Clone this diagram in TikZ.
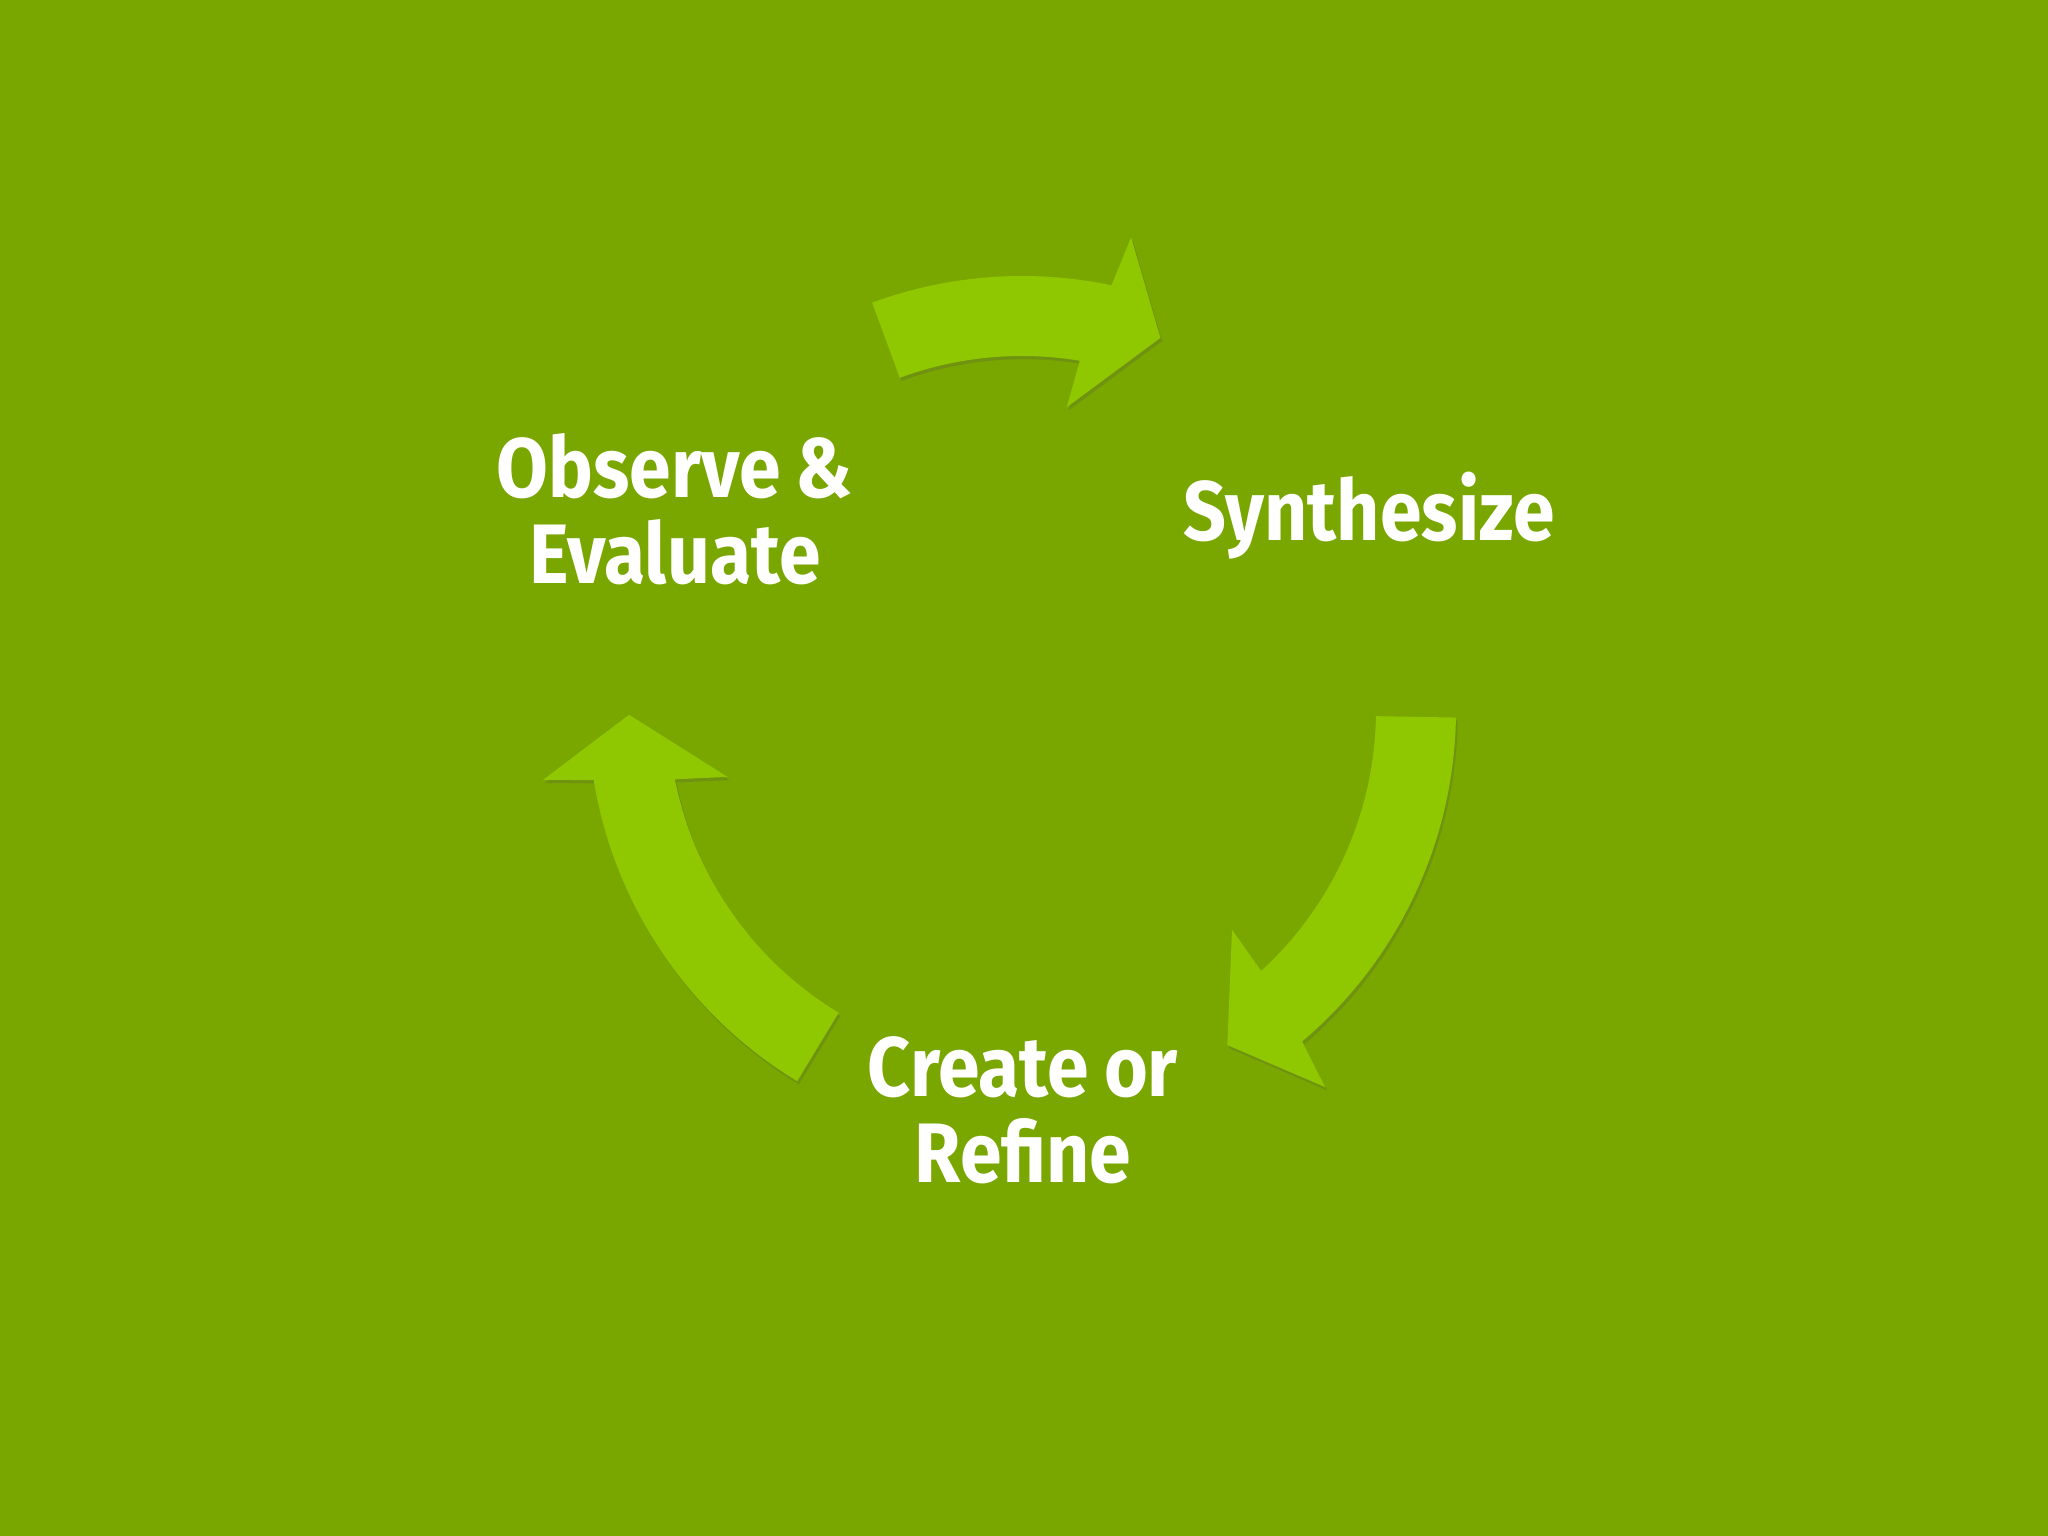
\documentclass[tikz,border=0pt]{standalone}
\usepackage{fontspec}
\setmainfont{Fira Sans}[WordSpace=0.85]
\usetikzlibrary{calc,shadows}

\definecolor{leafbg}{RGB}{121,167,0}
\definecolor{leafarrow}{RGB}{143,200,0}

\begin{document}
\begin{tikzpicture}[
  x=0.01cm, y=0.01cm,
  cyclearrow/.style={fill=leafarrow, drop shadow={shadow xshift=0.5pt, shadow yshift=-0.9pt, opacity=0.22, fill=black!70}},
  steplabel/.style={align=center, text=white, font=\bfseries\fontsize{24}{24.5}\selectfont, xscale=0.89, transform shape, inner sep=0pt},
]

% === BACKGROUND ===
\fill[leafbg] (0,0) rectangle (2048,1536);
\useasboundingbox (0,0) rectangle (2048,1536);

\coordinate (c) at (1022,826);

% === THREE ARROWS OF THE CYCLE ===
% top: observe -> synthesize
\fill[cyclearrow] ($(c)+(110.2:434)$) arc[start angle=110.2, end angle=78.1, radius=434]
  -- ($(c)+(77.0:485)$) -- ($(c)+(69.6:397)$) -- ($(c)+(81.6:306)$) -- ($(c)+(80.6:354)$)
  arc[start angle=80.6, end angle=110.2, radius=354] -- cycle;
% right: synthesize -> create
\fill[cyclearrow] ($(c)+(-1:434)$) arc[start angle=-1, end angle=-49.8, radius=434]
  -- ($(c)+(-51.2:484)$) -- ($(c)+(-58.5:393)$) -- ($(c)+(-46.3:304)$) -- ($(c)+(-47.5:354)$)
  arc[start angle=-47.5, end angle=-1, radius=354] -- cycle;
% left: create -> observe
\fill[cyclearrow] ($(c)+(238.8:434)$) arc[start angle=238.8, end angle=189.3, radius=434]
  -- ($(c)+(188.3:484)$) -- ($(c)+(180.7:393)$) -- ($(c)+(192.8:302)$) -- ($(c)+(191.3:354)$)
  arc[start angle=191.3, end angle=238.8, radius=354] -- cycle;

% === LABELS ===
\node[steplabel] (obs) at (675,1027) {Observe \&\\Evaluate};
\node[steplabel] (syn) at (1369,1020) {Synthesize};
\node[steplabel] (cre) at (1023,426) {Create or\\Refine};

\end{tikzpicture}
\end{document}
